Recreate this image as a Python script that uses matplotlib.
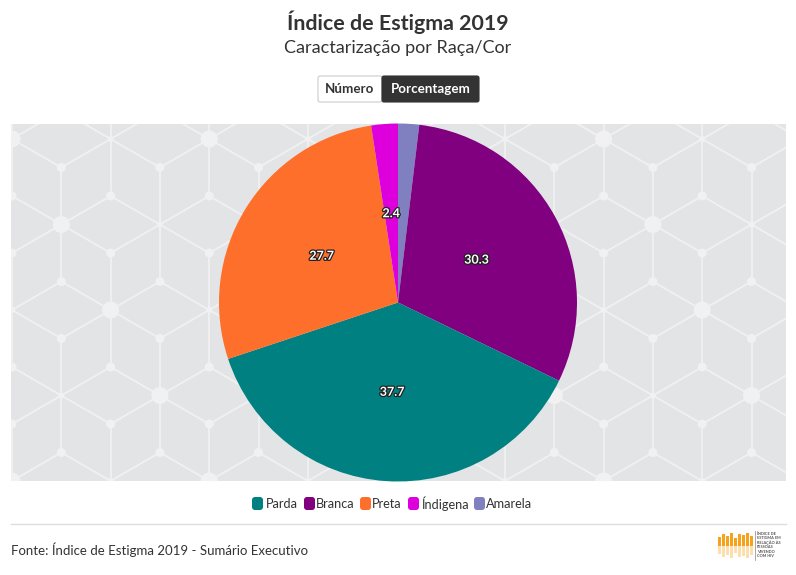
import matplotlib
matplotlib.use('Agg')
import matplotlib.pyplot as plt
from matplotlib.patches import Rectangle, FancyBboxPatch, Circle
from matplotlib.collections import LineCollection
import matplotlib.patheffects as pe
import numpy as np

# ---------------- data ----------------
categories = ['Parda', 'Branca', 'Preta', 'Índigena', 'Amarela']
values = [37.7, 30.3, 27.7, 2.4, 1.9]
colors = ['#008080', '#800080', '#ff6f2c', '#dd00dd', '#8080c0']
draw_order = ['Amarela', 'Branca', 'Parda', 'Preta', 'Índigena']
labelled = ['Parda', 'Branca', 'Preta', 'Índigena']

title = 'Índice de Estigma 2019'
subtitle = 'Caractarização por Raça/Cor'
source = 'Fonte: Índice de Estigma 2019 - Sumário Executivo'

plt.rcParams['font.family'] = ['Lato', 'DejaVu Sans']

W, H = 796, 575
fig = plt.figure(figsize=(W / 100, H / 100), dpi=100)
fig.patch.set_facecolor('white')
bg = fig.add_axes([0, 0, 1, 1])
bg.set_xlim(0, W)
bg.set_ylim(H, 0)
bg.axis('off')

# ---------------- plot area background with cube pattern ----------------
px0, py0, px1, py1 = 11, 124, 786, 481
area = Rectangle((px0, py0), px1 - px0, py1 - py0, facecolor='#e3e4e6',
                 edgecolor='none', zorder=0)
bg.add_patch(area)

dx, dy = 49.3, 57.0
ox, oy = 12, 139
segs = []
dots = []
for m in range(-3, 20):
    for n in range(-14, 12):
        x = ox + m * dx
        y = oy + m * dy / 2 + n * dy
        if not (px0 - 70 < x < px1 + 70 and py0 - 70 < y < py1 + 70):
            continue
        c = (m - n) % 3
        big = ((m * 5 + n * 7) % 6 == 0)
        dots.append((x, y, 8.5 if big else (4.5 if c != 0 else 3.0)))
        if c == 0:
            for dm, dn in [(1, 0), (-1, 0), (0, 1), (0, -1), (1, -1), (-1, 1)]:
                x2 = ox + (m + dm) * dx
                y2 = oy + (m + dm) * dy / 2 + (n + dn) * dy
                segs.append(((x, y), (x2, y2)))
lc = LineCollection(segs, colors='#f1f1f2', linewidths=1.3, zorder=1)
bg.add_collection(lc)
lc.set_clip_path(area)
for x, y, r in dots:
    cp = Circle((x, y), r, facecolor='#f1f1f2', edgecolor='none', zorder=1)
    bg.add_patch(cp)
    cp.set_clip_path(area)

# ---------------- titles ----------------
bg.text(W / 2, 22, title, ha='center', va='center', fontsize=15.4,
        fontweight='bold', color='#333333')
bg.text(W / 2, 48, subtitle, ha='center', va='center', fontsize=13.0,
        color='#333333')

# ---------------- buttons ----------------
bg.add_patch(FancyBboxPatch((318, 76), 64, 26, boxstyle='round,pad=0,rounding_size=2',
                            facecolor='white', edgecolor='#cccccc', linewidth=0.8))
bg.add_patch(FancyBboxPatch((382, 76), 97, 26, boxstyle='round,pad=0,rounding_size=2',
                            facecolor='#333333', edgecolor='#333333', linewidth=0.8))
bg.text(350, 89, 'Número', ha='center', va='center', fontsize=9.6,
        fontweight='bold', color='#333333')
bg.text(430.5, 89, 'Porcentagem', ha='center', va='center', fontsize=9.6,
        fontweight='bold', color='white')

# ---------------- pie ----------------
cx, cy, R = 398, 302.5, 179
pax = fig.add_axes([(cx - R) / W, 1 - (cy + R) / H, 2 * R / W, 2 * R / H])
vals_d = [values[categories.index(c)] for c in draw_order]
cols_d = [colors[categories.index(c)] for c in draw_order]
wedges, _ = pax.pie(vals_d, colors=cols_d, startangle=90, counterclock=False,
                    radius=1, wedgeprops=dict(linewidth=0))
pax.set_xlim(-1, 1)
pax.set_ylim(-1, 1)
pax.axis('off')
for w, name, v in zip(wedges, draw_order, vals_d):
    if name not in labelled:
        continue
    th = np.deg2rad((w.theta1 + w.theta2) / 2)
    r = 0.5
    t = pax.text(r * np.cos(th), r * np.sin(th), f'{v:.1f}', ha='center',
                 va='center', fontsize=9.0, fontweight='bold', color='white')
    t.set_path_effects([pe.Stroke(linewidth=1.8, foreground='#222222'), pe.Normal()])

# ---------------- legend ----------------
leg_sq = [252, 304, 360, 408, 474]
leg_tx = [266, 316, 372, 421, 486]
for name, col, sx, tx in zip(categories, colors, leg_sq, leg_tx):
    bg.add_patch(FancyBboxPatch((sx, 497), 11, 13,
                                boxstyle='round,pad=0,rounding_size=3',
                                facecolor=col, edgecolor='none'))
    bg.text(tx, 503.5, name, ha='left', va='center', fontsize=9.2, color='#333333')

# ---------------- footer ----------------
bg.plot([11, 786], [524, 524], color='#dddddd', linewidth=1)
bg.text(11, 550, source, ha='left', va='center', fontsize=9.5, color='#333333')

# logo
fig_x = [718, 722, 726, 730, 734, 738, 742, 746, 750]
fig_h = [9, 12, 10, 13, 8, 12, 11, 13, 10]
for x, h in zip(fig_x, fig_h):
    bg.add_patch(Rectangle((x, 546 - h), 3, h, facecolor='#f7a21b', edgecolor='none'))
    bg.add_patch(Rectangle((x, 546), 3, h * 0.9, facecolor='#f7a21b', alpha=0.35,
                           edgecolor='none'))
bg.plot([755, 755], [531, 560], color='#999999', linewidth=0.6)
logo_lines = ['ÍNDICE DE', 'ESTIGMA EM', 'RELAÇÃO ÀS', 'PESSOAS', 'VIVENDO', 'COM HIV']
for i, s in enumerate(logo_lines):
    bg.text(757, 534 + i * 4.4, s, ha='left', va='center', fontsize=2.8,
            fontweight='bold', color='#555555')

fig.savefig('out.png', dpi=100)
